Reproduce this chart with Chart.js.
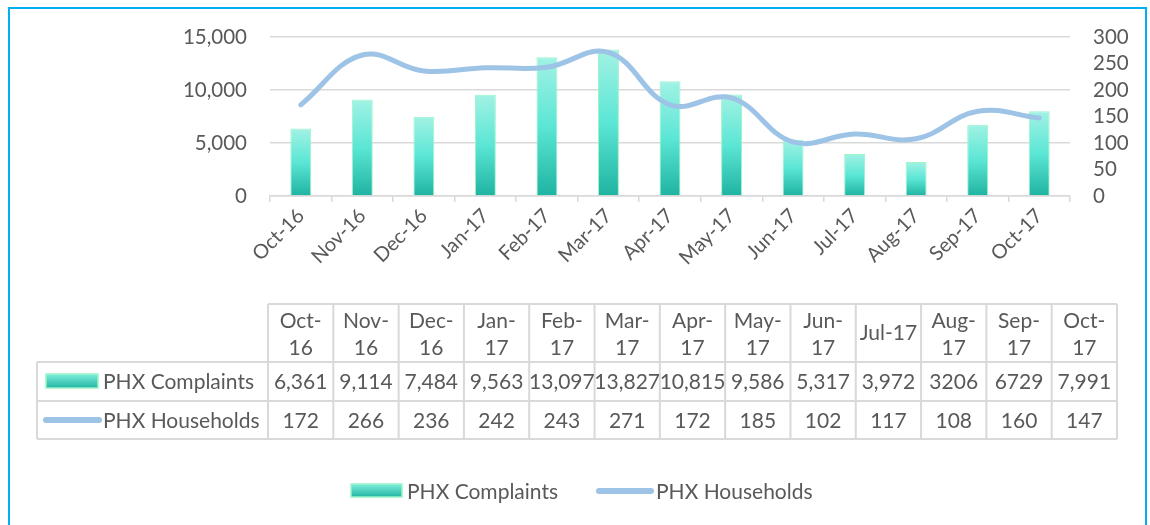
<!DOCTYPE html>
<html>
<head>
<meta charset="utf-8">
<script src="https://cdn.jsdelivr.net/npm/chart.js@4.4.1/dist/chart.umd.min.js"></script>
<style>
  html, body { margin: 0; padding: 0; background: #fff; }
  #wrap { position: relative; width: 1150px; height: 525px; overflow: hidden; }
  #frame { position: absolute; left: 8px; top: 7px; width: 1139px; height: 560px; border: 2px solid #00B0F0; box-sizing: border-box; }
  canvas { position: absolute; left: 0; top: 0; }
</style>
</head>
<body>
<div id="wrap">
  <div id="frame"></div>
  <canvas id="phxChart" width="1150" height="525"></canvas>
</div>
<script>
// data
const months = ['Oct-16', 'Nov-16', 'Dec-16', 'Jan-17', 'Feb-17', 'Mar-17', 'Apr-17', 'May-17', 'Jun-17', 'Jul-17', 'Aug-17', 'Sep-17', 'Oct-17'];
const complaints = [6361, 9114, 7484, 9563, 13097, 13827, 10815, 9586, 5317, 3972, 3206, 6729, 7991];
const households = [172, 266, 236, 242, 243, 271, 172, 185, 102, 117, 108, 160, 147];
// the data table shows some values without thousands separator
const complaintsLabels = ['6,361', '9,114', '7,484', '9,563', '13,097', '13,827', '10,815', '9,586', '5,317', '3,972', '3206', '6729', '7,991'];
const leftTicks = [0, 5000, 10000, 15000];
const rightTicks = [0, 50, 100, 150, 200, 250, 300];

const FONT = 'Lato, "Liberation Sans", sans-serif';
const GREY = '#595959';
const GRID = '#D9D9D9';
const LINE_BLUE = '#9DC3E6';

function barGradient(c) {
    const chart = c.chart;
    const y = chart.scales.y;
    if (!y || c.type !== 'data') return '#5FE6D6';
    const top = y.getPixelForValue(c.raw);
    const base = y.getPixelForValue(0);
    if (!isFinite(top) || !isFinite(base) || top === base) return '#5FE6D6';
    const g = chart.ctx.createLinearGradient(0, top, 0, base);
    g.addColorStop(0, '#A2F2E4');
    g.addColorStop(0.5, '#5BE6D5');
    g.addColorStop(1, '#1FB3A1');
    return g;
}

function swatchBar(ctx, x, y, w, h) {
    const g = ctx.createLinearGradient(0, y, 0, y + h);
    g.addColorStop(0, '#7EEEDD');
    g.addColorStop(1, '#22B5A3');
    ctx.fillStyle = g;
    ctx.fillRect(x, y, w, h);
    ctx.strokeStyle = '#9BF5C6';
    ctx.lineWidth = 1.5;
    ctx.strokeRect(x, y, w, h);
}

function swatchLine(ctx, x1, x2, y) {
    ctx.strokeStyle = LINE_BLUE;
    ctx.lineWidth = 6;
    ctx.lineCap = 'round';
    ctx.beginPath();
    ctx.moveTo(x1, y);
    ctx.lineTo(x2, y);
    ctx.stroke();
}

// data table + legend under the chart
const tablePlugin = {
    id: 'dataTable',
    afterDraw(chart) {
        const ctx = chart.ctx;
        const left = 37, colX0 = 268, right = 1117;
        const colW = (right - colX0) / months.length;
        const top = 304, r1 = 362, r2 = 401, r3 = 439;
        ctx.save();
        ctx.strokeStyle = GRID;
        ctx.lineWidth = 2;
        ctx.beginPath();
        ctx.moveTo(colX0, top); ctx.lineTo(right, top);
        [r1, r2, r3].forEach(yy => { ctx.moveTo(left, yy); ctx.lineTo(right, yy); });
        ctx.moveTo(left, r1); ctx.lineTo(left, r3);
        for (let i = 0; i <= months.length; i++) {
            const xx = colX0 + i * colW;
            ctx.moveTo(xx, top); ctx.lineTo(xx, r3);
        }
        ctx.stroke();

        ctx.fillStyle = GREY;
        ctx.font = '21px ' + FONT;
        ctx.textAlign = 'center';
        ctx.textBaseline = 'middle';
        months.forEach((m, i) => {
            const cx = colX0 + (i + 0.5) * colW;
            if (ctx.measureText(m).width > colW - 4) {
                const k = m.indexOf('-') + 1;
                ctx.fillText(m.slice(0, k), cx, top + 17);
                ctx.fillText(m.slice(k), cx, top + 44);
            } else {
                ctx.fillText(m, cx, (top + r1) / 2);
            }
            ctx.fillText(complaintsLabels[i], cx, (r1 + r2) / 2 + 1);
            ctx.fillText(String(households[i]), cx, (r2 + r3) / 2 + 1);
        });

        ctx.textAlign = 'left';
        swatchBar(ctx, 46, 374, 52, 14);
        ctx.fillStyle = GREY;
        ctx.fillText('PHX Complaints', 103, (r1 + r2) / 2 + 1);
        swatchLine(ctx, 46, 99, 420);
        ctx.fillStyle = GREY;
        ctx.fillText('PHX Households', 103, (r2 + r3) / 2 + 1);

        // legend
        swatchBar(ctx, 351, 484, 51, 13);
        ctx.fillStyle = GREY;
        ctx.fillText('PHX Complaints', 407, 492);
        swatchLine(ctx, 599, 651, 491);
        ctx.fillStyle = GREY;
        ctx.fillText('PHX Households', 656, 492);
        ctx.restore();
    }
};

const ctx = document.getElementById('phxChart').getContext('2d');
new Chart(ctx, {
    data: {
        labels: months,
        datasets: [
            {
                type: 'line',
                label: 'PHX Households',
                data: households,
                yAxisID: 'y2',
                borderColor: LINE_BLUE,
                borderWidth: 5,
                borderCapStyle: 'round',
                tension: 0.4,
                pointRadius: 0,
                fill: false,
                order: 0
            },
            {
                type: 'bar',
                label: 'PHX Complaints',
                data: complaints,
                yAxisID: 'y',
                backgroundColor: barGradient,
                borderColor: '#9BF5C6',
                borderWidth: 1,
                barPercentage: 0.34,
                categoryPercentage: 1,
                order: 1
            }
        ]
    },
    options: {
        responsive: false,
        animation: false,
        layout: { padding: { left: 180, right: 18, top: 37, bottom: 0 } },
        plugins: { legend: { display: false }, tooltip: { enabled: false } },
        scales: {
            x: {
                grid: { drawOnChartArea: false, tickLength: 6, color: GRID, lineWidth: 1.5 },
                border: { color: GRID, width: 1.5 },
                ticks: { color: GREY, font: { family: FONT, size: 20 }, minRotation: 45, maxRotation: 45, padding: 2, autoSkip: false },
                afterFit(s) { s.height = 525 - 196; }
            },
            y: {
                position: 'left',
                min: 0, max: 15000,
                afterBuildTicks(s) { s.ticks = leftTicks.map(v => ({ value: v })); },
                grid: { color: GRID, lineWidth: 1.5, drawTicks: false },
                border: { display: false },
                ticks: {
                    color: GREY, padding: 23, font: { family: FONT, size: 20.5 }, autoSkip: false,
                    callback: v => v.toLocaleString('en-US')
                },
                afterFit(s) { s.width = 90; }
            },
            y2: {
                position: 'right',
                min: 0, max: 300,
                afterBuildTicks(s) { s.ticks = rightTicks.map(v => ({ value: v })); },
                grid: { drawOnChartArea: false, drawTicks: false },
                border: { display: false },
                ticks: { color: GREY, padding: 23, font: { family: FONT, size: 20.5 }, autoSkip: false },
                afterFit(s) { s.width = 62; }
            }
        }
    },
    plugins: [tablePlugin]
});
</script>
</body>
</html>
